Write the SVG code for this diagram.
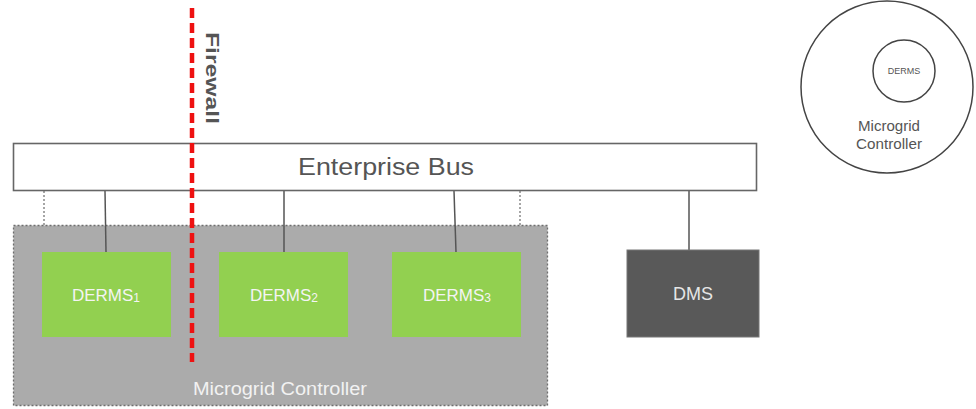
<svg xmlns="http://www.w3.org/2000/svg" width="976" height="409" viewBox="0 0 976 409">
  <style>
    .lbl { font-family: "Liberation Sans", Arial, sans-serif; }
    .derms { fill: #92d050; }
    .derms-txt { fill: #f4f4f4; font-size: 17px; text-anchor: middle; }
    .link { stroke: #555; stroke-width: 1.5; fill: none; }
    .dot { stroke: #777; stroke-width: 1.3; stroke-dasharray: 2 2; fill: none; }
  </style>
  <rect width="976" height="409" fill="#ffffff"/>

  <!-- Microgrid controller container -->
  <g id="microgrid-controller">
    <rect x="13.5" y="225.5" width="534" height="180" fill="#ababab" stroke="#6e6e6e" stroke-width="1.3" stroke-dasharray="2 2"/>
    <text class="lbl" x="280" y="395" font-size="18" fill="#f2f2f2" text-anchor="middle" textLength="174" lengthAdjust="spacingAndGlyphs">Microgrid Controller</text>
  </g>

  <!-- Connectors -->
  <g id="connectors">
    <line class="dot" x1="44" y1="191" x2="44" y2="225"/>
    <line class="dot" x1="520" y1="191" x2="520" y2="225"/>
    <line class="link" x1="105" y1="191" x2="106" y2="252"/>
    <line class="link" x1="284" y1="191" x2="284" y2="252"/>
    <line class="link" x1="454" y1="191" x2="456" y2="252"/>
    <line class="link" x1="689" y1="191" x2="689" y2="250" stroke="#777" stroke-width="2"/>
  </g>

  <!-- Enterprise bus -->
  <g id="enterprise-bus">
    <rect x="13.5" y="143.5" width="743" height="47" fill="#ffffff" stroke="#666" stroke-width="1.6"/>
    <text class="lbl" x="386" y="175" font-size="23" fill="#555" text-anchor="middle" textLength="176" lengthAdjust="spacingAndGlyphs">Enterprise Bus</text>
  </g>

  <g id="derms1">
    <rect class="derms" x="42" y="252" width="129" height="85"/>
    <text class="lbl derms-txt" x="106" y="301">DERMS<tspan font-size="12" dy="1">1</tspan></text>
  </g>
  <g id="derms2">
    <rect class="derms" x="219" y="252" width="129" height="85"/>
    <text class="lbl derms-txt" x="284" y="301">DERMS<tspan font-size="12" dy="1">2</tspan></text>
  </g>
  <g id="derms3">
    <rect class="derms" x="392" y="252" width="129" height="85"/>
    <text class="lbl derms-txt" x="457" y="301">DERMS<tspan font-size="12" dy="1">3</tspan></text>
  </g>

  <g id="dms">
    <rect x="627" y="250" width="132" height="87" fill="#595959" stroke="#777" stroke-width="1"/>
    <text class="lbl" x="693" y="300" font-size="18" fill="#e6e6e6" text-anchor="middle">DMS</text>
  </g>

  <!-- Firewall -->
  <g id="firewall">
    <line x1="192" y1="8" x2="192" y2="362" stroke="#ee1111" stroke-width="4.5" stroke-dasharray="10 5"/>
    <text class="lbl" transform="translate(206,78) rotate(90)" font-size="19" font-weight="bold" fill="#555" text-anchor="middle" textLength="92" lengthAdjust="spacingAndGlyphs">Firewall</text>
  </g>

  <!-- Legend -->
  <g id="legend">
    <circle cx="887" cy="87" r="86" fill="#ffffff" stroke="#444" stroke-width="1.5"/>
    <circle cx="904" cy="71" r="31" fill="#ffffff" stroke="#444" stroke-width="1.5"/>
    <text class="lbl" x="904" y="74" font-size="9" fill="#555" text-anchor="middle">DERMS</text>
    <text class="lbl" x="889" y="131" font-size="14" fill="#555" text-anchor="middle" textLength="62" lengthAdjust="spacingAndGlyphs">Microgrid</text>
    <text class="lbl" x="889" y="149" font-size="14" fill="#555" text-anchor="middle" textLength="66" lengthAdjust="spacingAndGlyphs">Controller</text>
  </g>
</svg>
